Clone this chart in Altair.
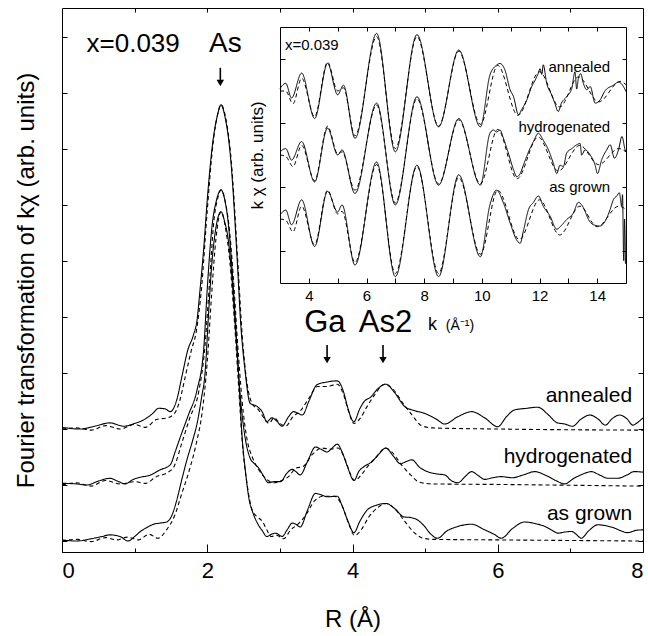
import altair as alt
import pandas as pd

# ---------------- main panel: FT magnitude vs R (values relative to each baseline) -------------
ann_R = [0.0, 0.25, 0.45, 0.66, 0.85, 1.0, 1.12, 1.25, 1.33, 1.42, 1.49, 1.58, 1.65, 1.73, 1.81, 1.86, 1.90, 1.95,
         2.00, 2.08, 2.14, 2.19, 2.24, 2.32, 2.41, 2.46, 2.52, 2.59, 2.69, 2.76, 2.82, 2.89, 2.95, 3.03, 3.12, 3.19,
         3.25, 3.31, 3.40, 3.51, 3.65, 3.79, 3.88, 3.93, 4.02, 4.10, 4.16, 4.25, 4.35, 4.46, 4.58, 4.72, 4.85, 4.99,
         5.15, 5.27, 5.45, 5.64, 5.82, 6.0, 6.12, 6.23, 6.4, 6.55, 6.7, 6.82, 6.92, 7.03, 7.15, 7.27, 7.38, 7.48,
         7.58, 7.68, 7.78, 7.86, 7.93, 8.0]
ann_v = [0.03, 0.0, 0.05, 0.11, 0.05, 0.10, 0.16, 0.28, 0.37, 0.36, 0.31, 0.52, 0.93, 1.40, 1.68, 1.95, 2.48, 3.2,
         4.09, 5.16, 5.6, 5.79, 5.6, 4.86, 3.08, 1.9, 1.05, 0.46, 0.40, 0.30, 0.13, 0.20, 0.15, 0.05, 0.22, 0.31,
         0.28, 0.25, 0.50, 0.79, 0.84, 0.86, 0.65, 0.40, 0.13, 0.36, 0.49, 0.57, 0.72, 0.80, 0.65, 0.40, 0.33, 0.28,
         0.18, 0.09, 0.22, 0.31, 0.20, 0.04, 0.22, 0.34, 0.37, 0.39, 0.25, 0.11, 0.09, 0.05, 0.18, 0.25, 0.18, 0.07,
         0.19, 0.25, 0.18, 0.07, 0.12, 0.2]
ann_fit_R = [0.0, 0.2, 0.4, 0.6, 0.8, 1.0, 1.15, 1.3, 1.45, 1.55, 1.62, 1.70, 1.78, 1.85, 1.92, 2.00, 2.08, 2.14,
             2.19, 2.25, 2.33, 2.42, 2.48, 2.55, 2.62, 2.70, 2.78, 2.85, 2.92, 3.0, 3.08, 3.18, 3.28, 3.40, 3.52,
             3.65, 3.79, 3.88, 3.95, 4.02, 4.10, 4.20, 4.30, 4.44, 4.55, 4.70, 4.82, 4.95, 5.1, 6.0, 8.0]
ann_fit_v = [0.0, 0.02, -0.02, 0.06, 0.0, 0.08, 0.03, 0.17, 0.2, 0.28, 0.5, 0.95, 1.4, 1.75, 2.5, 3.9, 5.1, 5.6,
             5.79, 5.58, 4.8, 3.0, 1.7, 0.8, 0.45, 0.35, 0.2, 0.1, 0.2, 0.1, 0.05, 0.22, 0.32, 0.55, 0.76,
             0.76, 0.80, 0.6, 0.3, 0.1, 0.18, 0.4, 0.6, 0.80, 0.72, 0.45, 0.25, 0.06, 0.02, 0.0, -0.02]

hyd_R = [0.0, 0.2, 0.34, 0.5, 0.66, 0.78, 0.87, 0.98, 1.08, 1.2, 1.35, 1.49, 1.56, 1.63, 1.74, 1.86, 1.95, 2.0,
         2.06, 2.13, 2.19, 2.24, 2.29, 2.35, 2.39, 2.44, 2.5, 2.59, 2.65, 2.71, 2.78, 2.84, 2.92, 3.01, 3.09, 3.17,
         3.22, 3.28, 3.38, 3.49, 3.58, 3.65, 3.72, 3.79, 3.86, 3.93, 4.02, 4.09, 4.16, 4.27, 4.36, 4.46, 4.56, 4.66,
         4.74, 4.82, 4.92, 5.03, 5.15, 5.27, 5.36, 5.45, 5.55, 5.64, 5.73, 5.82, 5.93, 6.05, 6.2, 6.35, 6.51, 6.65,
         6.8, 6.92, 7.05, 7.18, 7.29, 7.4, 7.52, 7.65, 7.78, 7.88, 8.0]
hyd_v = [0.03, 0.02, 0.0, 0.07, 0.12, 0.06, 0.02, 0.10, 0.14, 0.17, 0.27, 0.36, 0.6, 0.86, 1.25, 1.70, 2.41, 3.5,
         4.55, 5.1, 5.27, 5.1, 4.67, 3.7, 2.89, 1.82, 1.04, 0.48, 0.38, 0.30, 0.15, 0.04, 0.06, 0.06, 0.2, 0.28,
         0.24, 0.18, 0.42, 0.68, 0.63, 0.59, 0.66, 0.73, 0.58, 0.33, 0.08, 0.25, 0.33, 0.42, 0.55, 0.66, 0.52, 0.38,
         0.42, 0.45, 0.32, 0.24, 0.20, 0.18, 0.08, 0.04, 0.15, 0.24, 0.17, 0.10, 0.13, 0.15, 0.13, 0.18, 0.24, 0.18,
         0.08, 0.02, 0.12, 0.2, 0.24, 0.18, 0.12, 0.12, 0.18, 0.24, 0.23]
hyd_fit_R = [0.0, 0.2, 0.4, 0.6, 0.8, 1.0, 1.15, 1.3, 1.45, 1.55, 1.65, 1.76, 1.88, 1.97, 2.03, 2.09, 2.15, 2.19,
             2.25, 2.31, 2.37, 2.42, 2.48, 2.55, 2.62, 2.72, 2.82, 2.92, 3.02, 3.12, 3.22, 3.32, 3.45, 3.58, 3.70,
             3.80, 3.90, 3.97, 4.03, 4.12, 4.22, 4.33, 4.45, 4.55, 4.68, 4.8, 4.92, 5.1, 6.0, 8.0]
hyd_fit_v = [0.0, 0.04, -0.02, 0.08, 0.02, 0.06, 0.03, 0.15, 0.22, 0.35, 0.75, 1.2, 1.65, 2.5, 3.6, 4.7, 5.15, 5.27,
             5.05, 4.5, 3.5, 2.5, 1.5, 0.8, 0.5, 0.25, 0.1, 0.04, 0.08, 0.15, 0.3, 0.33, 0.55, 0.66, 0.64,
             0.66, 0.45, 0.2, 0.08, 0.18, 0.35, 0.5, 0.66, 0.58, 0.35, 0.18, 0.05, 0.02, 0.01, -0.02]

ag_R = [0.0, 0.2, 0.4, 0.55, 0.66, 0.8, 0.91, 1.0, 1.08, 1.18, 1.26, 1.35, 1.44, 1.52, 1.58, 1.65, 1.72, 1.80, 1.86,
        1.92, 1.97, 2.02, 2.06, 2.12, 2.19, 2.24, 2.29, 2.34, 2.39, 2.43, 2.48, 2.53, 2.57, 2.63, 2.69, 2.76, 2.82,
        2.88, 2.94, 3.0, 3.03, 3.10, 3.17, 3.22, 3.28, 3.38, 3.49, 3.58, 3.65, 3.79, 3.86, 3.93, 4.02, 4.10, 4.20,
        4.33, 4.46, 4.58, 4.71, 4.80, 4.89, 4.98, 5.08, 5.17, 5.30, 5.45, 5.64, 5.82, 5.95, 6.05, 6.2, 6.37, 6.52,
        6.65, 6.75, 6.83, 6.92, 7.02, 7.08, 7.15, 7.25, 7.38, 7.5, 7.61, 7.72, 7.79, 7.9, 8.0]
ag_v = [0.02, 0.0, 0.04, 0.08, 0.11, 0.08, 0.0, 0.08, 0.17, 0.25, 0.30, 0.32, 0.34, 0.48, 0.73, 1.1, 1.45, 1.8, 2.1,
        2.55, 3.0, 4.1, 4.9, 5.6, 5.88, 5.7, 5.37, 4.7, 3.77, 3.0, 1.86, 1.2, 0.79, 0.5, 0.32, 0.18, 0.08,
        0.12, 0.14, 0.10, 0.08, 0.2, 0.32, 0.3, 0.25, 0.55, 0.85, 0.82, 0.79, 0.80, 0.62, 0.38, 0.15, 0.35, 0.55,
        0.64, 0.67, 0.58, 0.43, 0.42, 0.38, 0.28, 0.12, 0.05, 0.18, 0.26, 0.30, 0.20, 0.12, 0.05, 0.22, 0.34, 0.31,
        0.26, 0.19, 0.14, 0.16, 0.17, 0.12, 0.05, 0.18, 0.29, 0.27, 0.23, 0.17, 0.15, 0.19, 0.2]
ag_fit_R = [0.0, 0.2, 0.4, 0.6, 0.75, 0.9, 1.05, 1.2, 1.32, 1.45, 1.55, 1.65, 1.75, 1.85, 1.93, 2.0, 2.06, 2.12,
            2.19, 2.25, 2.31, 2.37, 2.43, 2.48, 2.55, 2.62, 2.70, 2.76, 2.82, 2.88, 2.96, 3.05, 3.15, 3.25, 3.35,
            3.48, 3.60, 3.75, 3.86, 3.95, 4.03, 4.12, 4.22, 4.35, 4.47, 4.6, 4.72, 4.85, 4.95, 5.1, 6.0, 8.0]
ag_fit_v = [0.0, 0.03, -0.01, 0.06, 0.02, 0.07, 0.02, 0.12, 0.05, 0.22, 0.45, 0.85, 1.25, 1.75, 2.3, 3.2, 4.4, 5.4,
            5.88, 5.6, 5.0, 4.0, 2.8, 1.8, 1.0, 0.55, 0.42, 0.35, 0.2, 0.08, 0.1, 0.04, 0.2, 0.3, 0.45,
            0.72, 0.8, 0.8, 0.62, 0.3, 0.1, 0.2, 0.42, 0.6, 0.67, 0.55, 0.35, 0.15, 0.06, 0.03, 0.02, 0.0]

# ---------------- inset: k*chi(k) (relative to each baseline) ----------------
i_ann_k = [3.0, 3.2, 3.4, 3.75, 4.2, 4.65, 5.0, 5.2, 5.6, 6.35, 7.0, 7.75, 8.5, 9.2, 9.95,
           10.28, 10.5, 10.63, 10.8, 10.98, 11.1, 11.27, 11.38, 11.56, 11.73, 11.85, 11.96, 12.02, 12.08, 12.13,
           12.25, 12.42, 12.53, 12.65, 12.76, 12.94, 13.12, 13.23, 13.29, 13.35, 13.43, 13.52, 13.64, 13.76, 13.93,
           14.1, 14.27, 14.56, 14.74, 14.91, 15.0]
i_ann_v = [0.04, 0.12, -0.11, 0.28, -0.43, 0.43, -0.06, 0.09, -0.74, 0.90, -0.95, 0.88, -0.56, 0.64, -0.56,
           0.25, 0.40, 0.43, 0.33, 0.02, -0.09, -0.37, -0.29, -0.14, 0.07, 0.17, 0.28, 0.35, 0.26, 0.41,
           0.12, -0.06, -0.19, -0.32, -0.19, -0.09, 0.04, 0.30, 0.03, 0.20, 0.27, 0.12, 0.02, 0.07, -0.19,
           -0.14, 0.0, 0.09, 0.14, 0.07, -0.01]
i_ann_fit_k = [3.0, 3.2, 3.45, 3.75, 4.2, 4.65, 5.0, 5.2, 5.6, 6.35, 7.0, 7.75, 8.5, 9.2, 9.95, 10.55, 11.25, 12.0,
               12.7, 13.35, 14.05, 14.8, 15.0]
i_ann_fit_v = [0.0, 0.0, -0.2, 0.2, -0.4, 0.45, 0.0, 0.05, -0.7, 0.85, -0.9, 0.85, -0.55, 0.62, -0.52, 0.40, -0.38,
               0.30, -0.25, 0.22, -0.17, 0.15, 0.10]
i_hyd_k = [3.0, 3.2, 3.4, 3.75, 4.2, 4.65, 5.0, 5.15, 5.6, 6.35, 7.0, 7.75, 8.5, 9.2, 9.95,
           10.28, 10.40, 10.51, 10.63, 10.75, 10.92, 11.1, 11.21, 11.33, 11.44, 11.62, 11.79, 11.96, 12.13, 12.31,
           12.48, 12.6, 12.71, 12.83, 12.94, 13.12, 13.29, 13.41, 13.46, 13.58, 13.76, 13.93, 14.01, 14.16, 14.33,
           14.45, 14.6, 14.74, 14.86, 14.97, 15.0]
i_hyd_v = [0.05, 0.10, -0.08, 0.21, -0.42, 0.42, 0.0, 0.08, -0.60, 0.81, -0.78, 0.91, -0.47, 0.57, -0.47,
           0.34, 0.39, 0.36, 0.39, 0.26, 0.03, -0.23, -0.34, -0.29, -0.16, 0.05, 0.21, 0.34, 0.23, 0.08,
           -0.13, -0.29, -0.16, -0.18, 0.03, 0.10, 0.16, 0.18, 0.0, 0.08, 0.0, -0.16, -0.29, -0.07, 0.08,
           0.16, -0.05, 0.08, 0.29, 0.08, 0.05]
i_hyd_fit_k = [3.0, 3.2, 3.45, 3.75, 4.2, 4.65, 5.0, 5.15, 5.6, 6.35, 7.0, 7.75, 8.5, 9.2, 9.95, 10.55, 11.22,
               11.95, 12.65, 13.4, 14.05, 14.75, 15.0]
i_hyd_fit_v = [0.0, -0.02, -0.18, 0.15, -0.4, 0.45, 0.02, 0.05, -0.55, 0.78, -0.75, 0.88, -0.45, 0.55, -0.45, 0.40,
               -0.37, 0.28, -0.25, 0.15, -0.15, 0.10, 0.05]
i_ag_k = [3.0, 3.2, 3.4, 3.75, 4.2, 4.65, 5.0, 5.15, 5.6, 6.35, 7.0, 7.75, 8.5, 9.2, 9.95,
          10.28, 10.51, 10.75, 10.98, 11.21, 11.33, 11.44, 11.62, 11.79, 11.96, 12.13, 12.36, 12.6, 12.76, 12.94,
          13.17, 13.35, 13.52, 13.7, 13.87, 14.1, 14.27, 14.45, 14.56, 14.68, 14.77, 14.85, 14.88, 14.92, 14.95,
          14.98]
i_ag_v = [0.06, 0.14, -0.09, 0.30, -0.43, 0.43, 0.11, 0.22, -0.72, 0.89, -0.90, 0.84, -0.90, 0.69, -0.59,
          0.22, 0.45, 0.25, -0.06, -0.33, -0.38, -0.19, 0.15, 0.26, 0.36, 0.2, 0.05, -0.16, -0.1, -0.01,
          0.09, 0.26, 0.18, -0.01, -0.09, -0.11, -0.04, 0.15, 0.30, 0.36, 0.41, 0.2, 0.38, -0.65, 0.0,
          -0.7]
i_ag_fit_k = [3.0, 3.2, 3.45, 3.75, 4.2, 4.65, 5.0, 5.15, 5.6, 6.35, 7.0, 7.75, 8.5, 9.2, 9.95, 10.55, 11.3, 12.0,
              12.7, 13.4, 14.0, 14.75, 15.0]
i_ag_fit_v = [0.0, -0.02, -0.2, 0.2, -0.4, 0.45, 0.08, 0.12, -0.68, 0.85, -0.85, 0.82, -0.85, 0.65, -0.55, 0.45,
              -0.32, 0.3, -0.25, 0.2, -0.12, 0.2, 0.15]

samples = ["annealed", "hydrogenated", "as grown"]

# ---------------- annotation texts ----------------
main_text_c = ["x=0.039", "As", "Ga", "As2"]
main_text_c_R = [0.98, 2.25, 3.62, 4.455]
main_text_c_v = [8.73, 8.73, 3.73, 3.73]
main_text_c_size = [26, 28, 31, 31]
label_R = 7.85
label_v = [2.48, 1.39, 0.375]
arrow_R = [2.18, 3.65, 4.42]
arrow_top = [8.45, 3.50, 3.50]
arrow_tip = [8.09, 3.14, 3.14]

inset_label_k = 14.45
inset_label_v = [3.30, 2.36, 1.42]

# ---------------- geometry ----------------
W, H = 581, 544
R_DOM = [0, 8]
V_DOM = [-0.196, 9.518]
K_DOM = [3, 15]
KV_DOM = [0, 4]
K_RNG = [218, 564]
KV_RNG = [275, 19]

rows = []
for name, off, R, v, fR, fv in [
    ("annealed", 2, ann_R, ann_v, ann_fit_R, ann_fit_v),
    ("hydrogenated", 1, hyd_R, hyd_v, hyd_fit_R, hyd_fit_v),
    ("as grown", 0, ag_R, ag_v, ag_fit_R, ag_fit_v),
]:
    rows += [dict(R=a, v=b + off, curve=name + " data", kind="data") for a, b in zip(R, v)]
    rows += [dict(R=a, v=b + off, curve=name + " fit", kind="fit") for a, b in zip(fR, fv)]
df_main = pd.DataFrame(rows)

rows = []
for name, off, k, v, fk, fv in [
    ("annealed", 3, i_ann_k, i_ann_v, i_ann_fit_k, i_ann_fit_v),
    ("hydrogenated", 2, i_hyd_k, i_hyd_v, i_hyd_fit_k, i_hyd_fit_v),
    ("as grown", 1, i_ag_k, i_ag_v, i_ag_fit_k, i_ag_fit_v),
]:
    rows += [dict(k=a, v=b + off, curve=name + " data", kind="data") for a, b in zip(k, v)]
    rows += [dict(k=a, v=b + off, curve=name + " fit", kind="fit") for a, b in zip(fk, fv)]
df_inset = pd.DataFrame(rows)


def mx(field, axis=None):
    return alt.X(field, scale=alt.Scale(domain=R_DOM, nice=False, zero=False), axis=axis)


def my(field, axis=None):
    return alt.Y(field, scale=alt.Scale(domain=V_DOM, nice=False, zero=False), axis=axis)


def ix(field, axis=None):
    return alt.X(field, scale=alt.Scale(domain=K_DOM, range=K_RNG, nice=False, zero=False), axis=axis)


def iy(field, axis=None):
    return alt.Y(field, scale=alt.Scale(domain=KV_DOM, range=KV_RNG, nice=False, zero=False), axis=axis)


def ax(orient, offset=0, values=None, tick=0, domain=False, labels=False, title=None, **kw):
    d = dict(orient=orient, offset=offset, grid=False, domain=domain, labels=labels,
             ticks=tick > 0, domainColor="black", tickColor="black", labelColor="black",
             titleColor="black", domainWidth=1, tickWidth=1, title=title)
    if tick > 0:
        d["tickSize"] = tick
    if values is not None:
        d["values"] = values
    d.update(kw)
    return alt.Axis(**d)


dash = alt.StrokeDash("kind:N", scale=alt.Scale(domain=["data", "fit"], range=[[1, 0], [4, 3]]), legend=None)
idash = alt.StrokeDash("kind:N", scale=alt.Scale(domain=["data", "fit"], range=[[1, 0], [2, 2]]), legend=None)

main_lines = alt.Chart(df_main).mark_line(color="black", strokeWidth=1.1, interpolate="monotone").encode(
    x=mx("R:Q"), y=my("v:Q"), detail="curve:N", strokeDash=dash)

inset_lines = alt.Chart(df_inset).mark_line(color="black", strokeWidth=1.0, interpolate="monotone").encode(
    x=ix("k:Q"), y=iy("v:Q"), detail="curve:N", strokeDash=idash)

df_tc = pd.DataFrame(dict(R=main_text_c_R, v=main_text_c_v, t=main_text_c, s=main_text_c_size))
text_c = alt.Chart(df_tc).mark_text(align="center", baseline="alphabetic", color="black").encode(
    x=mx("R:Q"), y=my("v:Q"), text="t:N", size=alt.Size("s:Q", scale=None))

df_lab = pd.DataFrame(dict(R=[label_R] * 3, v=label_v, t=samples))
text_lab = alt.Chart(df_lab).mark_text(align="right", baseline="alphabetic", fontSize=21, color="black").encode(
    x=mx("R:Q"), y=my("v:Q"), text="t:N")

df_arr = pd.DataFrame(dict(R=arrow_R, top=arrow_top, tip=arrow_tip,
                           head=[t + 0.09 for t in arrow_tip], shaft=[t + 0.12 for t in arrow_tip]))
arr_rule = alt.Chart(df_arr).mark_rule(color="black", strokeWidth=1.6).encode(
    x=mx("R:Q"), y=my("top:Q"), y2="shaft:Q")
arr_head = alt.Chart(df_arr).mark_point(shape="triangle-down", filled=True, color="black", opacity=1, size=55).encode(
    x=mx("R:Q"), y=my("head:Q"))

df_il = pd.DataFrame(dict(k=[inset_label_k] * 3, v=inset_label_v, t=samples))
inset_lab = alt.Chart(df_il).mark_text(align="right", baseline="alphabetic", fontSize=15, color="black").encode(
    x=ix("k:Q"), y=iy("v:Q"), text="t:N")
df_ix = pd.DataFrame(dict(k=[3.17], v=[3.64], t=["x=0.039"]))
inset_x = alt.Chart(df_ix).mark_text(align="left", baseline="alphabetic", fontSize=15, color="black").encode(
    x=ix("k:Q"), y=iy("v:Q"), text="t:N")
df_kt = pd.DataFrame(dict(k=[8.13, 8.75], v=[-0.73, -0.73], t=["k", "(Å⁻¹)"], s=[18, 14]))
inset_kt = alt.Chart(df_kt).mark_text(align="left", baseline="alphabetic", color="black").encode(
    x=ix("k:Q"), y=iy("v:Q"), text="t:N", size=alt.Size("s:Q", scale=None))

dummy = pd.DataFrame(dict(a=[0.0], b=[0.0]))
dummy_i = pd.DataFrame(dict(a=[3.0], b=[0.0]))
R_major = [0, 2, 4, 6, 8]
R_minor = [1, 3, 5, 7]
R_top = [1, 2, 3, 4, 5, 6, 7]
V_ticks = [0, 1, 2, 3, 4, 5, 6, 7, 8, 9]
K_labels = [4, 6, 8, 10, 12, 14]
K_ticks = [4, 5, 6, 7, 8, 9, 10, 11, 12, 13, 14]
KV_ticks = [0.5, 1.5, 2.5, 3.5]


def axis_layer(xf, yf, xa, ya, data):
    return alt.Chart(data).mark_point(opacity=0).encode(x=xf("a:Q", axis=xa), y=yf("b:Q", axis=ya))


A = axis_layer(mx, my,
               ax("bottom", 0, R_major, labels=True, labelFontSize=22, labelPadding=8,
                  title="R (Å)", titleFontSize=24, titleFontWeight="normal", titlePadding=26),
               ax("left", 0, [], title="Fourier transformation of kχ (arb. units)", titleFontSize=24,
                  titleFontWeight="normal", titlePadding=24), dummy)
B = axis_layer(mx, my, ax("top", -H, R_major, tick=8, domain=True), ax("right", -W, V_ticks, tick=5, domain=True), dummy)
C = axis_layer(mx, my, ax("top", -H, R_minor, tick=4), ax("left", -W, V_ticks, tick=5, domain=True), dummy)
D = axis_layer(mx, my, ax("bottom", -H, R_top, tick=4, domain=True), None, dummy)

E = axis_layer(ix, iy,
               ax("bottom", KV_RNG[0] - H, K_labels, labels=True, labelFontSize=15, labelPadding=5),
               ax("left", -K_RNG[0], [], title="k χ (arb. units)", titleFontSize=17, titleFontWeight="normal",
                  titlePadding=14), dummy_i)
F = axis_layer(ix, iy, ax("top", -KV_RNG[0], K_ticks, tick=5, domain=True),
               ax("right", K_RNG[0] - W, KV_ticks, tick=5, domain=True), dummy_i)
G = axis_layer(ix, iy, ax("bottom", KV_RNG[1] - H, K_ticks, tick=4, domain=True),
               ax("left", -K_RNG[1], KV_ticks, tick=4, domain=True), dummy_i)

chart = alt.layer(
    A, B, C, D, main_lines, text_c, text_lab, arr_rule, arr_head,
    E, F, G, inset_lines, inset_lab, inset_x, inset_kt,
).resolve_scale(x="independent", y="independent").properties(
    width=W, height=H,
    autosize=alt.AutoSizeParams(type="none"),
    padding={"left": 62, "top": 8, "right": 5, "bottom": 84},
).configure(font="Liberation Sans").configure_view(stroke=None)

chart.save("out.html", embed_options={"renderer": "svg", "actions": False})
